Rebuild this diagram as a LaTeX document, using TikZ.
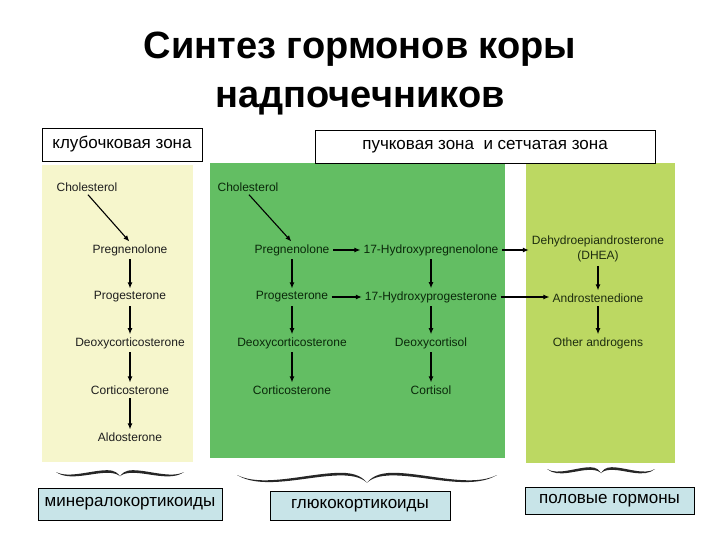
\documentclass[tikz,border=0pt]{standalone}
\usepackage{fontspec}
\setmainfont{Liberation Sans}
\usetikzlibrary{arrows.meta}
\definecolor{zglom}  {RGB}{246,246,204}
\definecolor{zfasc}  {RGB}{99,190,99}
\definecolor{zret}   {RGB}{188,216,98}
\definecolor{hormblue}{RGB}{200,228,232}
\definecolor{txtglom}{RGB}{30,30,30}
\definecolor{txtfasc}{RGB}{10,40,10}
\definecolor{txtret} {RGB}{30,45,15}
\tikzset{
  ttl/.style={font=\fontsize{38}{49}\selectfont\bfseries,align=center},
  panel/.style={rectangle,draw=none,fill=#1,anchor=north west,inner sep=0pt},
  zonelabel/.style={rectangle,draw=black,line width=0.8pt,fill=white,
                    font=\fontsize{17}{20}\selectfont,inner sep=0pt},
  hormlabel/.style={rectangle,draw=black,line width=0.8pt,fill=hormblue,
                    font=\fontsize{17}{20}\selectfont,inner sep=0pt},
  chem/.style={font=\fontsize{12}{15}\selectfont,text=#1,inner sep=2pt,align=center},
  chem/.default=txtglom,
  arr/.style={-{Latex[length=6pt,width=5pt]},line width=1.1pt,black,
              shorten <=1.5pt,shorten >=1pt},
}
% brace under a zone: centre x, y, half width, depth
\newcommand\zonebrace[4]{%
  \fill[black!85,shift={(#1,#2)},xscale=#3]
    (-1,0) .. controls (-0.8,{1.6*#4-1.3}) and (-0.45,{-0.1*#4-1.3}) .. (-0.2,{-0.1*#4-1.3})
    .. controls (-0.08,{-0.1*#4-1.3}) and (-0.03,{0.4*#4-0.6}) .. (0,{0.85*#4})
    .. controls (0.03,{0.4*#4-0.6}) and (0.08,{-0.1*#4-1.3}) .. (0.2,{-0.1*#4-1.3})
    .. controls (0.45,{-0.1*#4-1.3}) and (0.8,{1.6*#4-1.3}) .. (1,0)
    .. controls (0.8,{1.6*#4+1.3}) and (0.45,{-0.1*#4+1.3}) .. (0.2,{-0.1*#4+1.3})
    .. controls (0.08,{-0.1*#4+1.3}) and (0.03,{0.4*#4+0.6}) .. (0,{0.85*#4})
    .. controls (-0.03,{0.4*#4+0.6}) and (-0.08,{-0.1*#4+1.3}) .. (-0.2,{-0.1*#4+1.3})
    .. controls (-0.45,{-0.1*#4+1.3}) and (-0.8,{1.6*#4+1.3}) .. (-1,0) -- cycle;}
\begin{document}
\begin{tikzpicture}[x=1pt,y=-1pt]
  \useasboundingbox (0,0) rectangle (720,540);
  \node[ttl] (title) at (360,74) {Синтез гормонов коры\\надпочечников};

  % zones
  \node[panel=zglom,minimum width=151pt,minimum height=297pt] (pglom) at (42,165) {};
  \node[panel=zfasc,minimum width=295pt,minimum height=295pt] (pfasc) at (210,163) {};
  \node[panel=zret,minimum width=149pt,minimum height=300pt] (pret) at (526,163) {};
  \node[zonelabel,minimum width=160pt,minimum height=33pt] (lglom) at (122,144.5) {клубочковая зона};
  \node[zonelabel,minimum width=340pt,minimum height=33pt] (lfasc) at (485,146.5) {пучковая зона\ \ и сетчатая зона};

  % zona glomerulosa
  \node[chem] (gchol) at (87,187) {Cholesterol};
  \node[chem] (gpreg) at (130,250) {Pregnenolone};
  \node[chem] (gprog) at (130,297) {Progesterone};
  \node[chem] (gdoc)  at (130,343) {Deoxycorticosterone};
  \node[chem] (gcort) at (130,390) {Corticosterone};
  \node[chem] (galdo) at (130,437) {Aldosterone};
  \draw[arr] (gchol.south) -- (gpreg.north);
  \foreach \a/\b in {gpreg/gprog,gprog/gdoc,gdoc/gcort,gcort/galdo}
    \draw[arr] (\a) -- (\b);

  % zona fasciculata
  \node[chem=txtfasc] (fchol)  at (248,187) {Cholesterol};
  \node[chem=txtfasc] (fpreg)  at (292,250) {Pregnenolone};
  \node[chem=txtfasc] (fprog)  at (292,297) {Progesterone};
  \node[chem=txtfasc] (fdoc)   at (292,343) {Deoxycorticosterone};
  \node[chem=txtfasc] (fcort)  at (292,390) {Corticosterone};
  \node[chem=txtfasc] (fhpreg) at (431,250) {17-Hydroxypregnenolone};
  \node[chem=txtfasc] (fhprog) at (431,297) {17-Hydroxyprogesterone};
  \node[chem=txtfasc] (fdcol)  at (431,343) {Deoxycortisol};
  \node[chem=txtfasc] (fcol)   at (431,390) {Cortisol};
  \draw[arr] (fchol.south) -- (fpreg.north);
  \foreach \a/\b in {fpreg/fprog,fprog/fdoc,fdoc/fcort,
                     fpreg/fhpreg,fprog/fhprog,fhpreg/fhprog,fhprog/fdcol,fdcol/fcol}
    \draw[arr] (\a) -- (\b);

  % zona reticularis
  \node[chem=txtret] (rdhea)  at (598,249) {Dehydroepiandrosterone\\(DHEA)};
  \node[chem=txtret] (randro) at (598,298) {Androstenedione};
  \node[chem=txtret] (roth)   at (598,343) {Other androgens};
  \draw[arr] (fhpreg.east) -- (fhpreg.east -| rdhea.west);
  \draw[arr] (fhprog.east) -- (fhprog.east -| randro.west);
  \draw[arr] (rdhea) -- (randro);
  \draw[arr] (randro) -- (roth);

  % hormone groups
  \zonebrace{120}{472}{64}{5}
  \zonebrace{367}{475}{130}{9}
  \zonebrace{601}{469}{54}{5}
  \node[hormlabel,minimum width=184pt,minimum height=32pt] (hmin) at (130,504) {минералокортикоиды};
  \node[hormlabel,minimum width=180pt,minimum height=29pt] (hglu) at (360,505.5) {глюкокортикоиды};
  \node[hormlabel,minimum width=169pt,minimum height=27pt] (hsex) at (609.5,500.5) {половые гормоны};
\end{tikzpicture}
\end{document}
